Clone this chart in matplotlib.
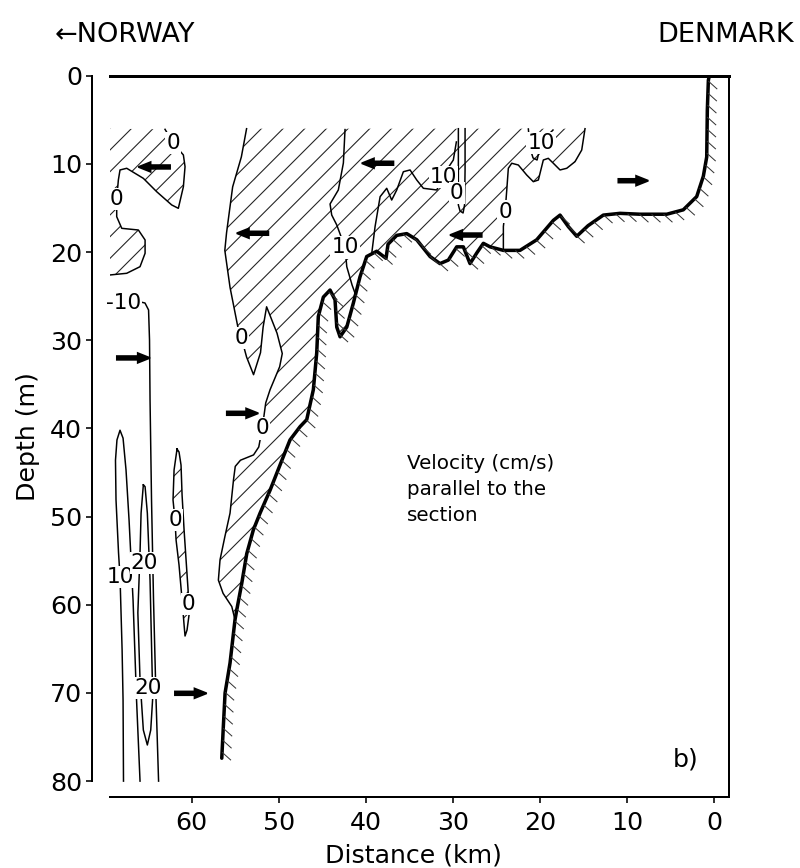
import numpy as np
import matplotlib
matplotlib.use('Agg')
import matplotlib.pyplot as plt
from matplotlib import font_manager
from matplotlib.collections import LineCollection

DPI = 130
PX = 72 / DPI  # one pixel in points

# seabed, deep end (Norwegian trench) to the Danish coast: distance (km), depth (m)
bed_km = [56.55, 56.37, 56.17, 55.60, 55.03, 54.83, 54.26, 53.68, 52.92, 52.15, 51.0, 49.48,
          48.71, 47.56, 46.79, 46.03, 45.64, 45.46, 44.88, 44.11, 43.54, 43.34, 42.96, 42.19,
          41.44, 40.67, 39.90, 38.75, 37.68, 37.45, 36.45, 35.30, 34.15, 32.62, 31.48, 30.52,
          29.56, 28.80, 28.03, 27.26, 26.50, 25.73, 24.20, 22.29, 20.37, 18.46, 17.69, 16.74,
          15.77, 14.47, 12.72, 10.80, 8.50, 5.43, 3.53, 1.99, 1.23, 0.84, 0.77, 0.65, 0.54]
bed_depth = [77.4, 73.8, 70.0, 66.6, 61.7, 60.6, 57.6, 54.2, 51.5, 49.6, 47.0, 43.2,
             41.3, 39.8, 39.0, 35.6, 31.4, 27.3, 25.1, 24.3, 25.4, 28.5, 29.6, 28.5,
             25.8, 22.8, 20.5, 19.9, 20.7, 19.1, 18.1, 17.9, 18.6, 20.5, 21.3, 20.9,
             19.4, 19.4, 21.3, 20.1, 19.0, 19.4, 19.8, 19.8, 18.6, 16.4, 15.8, 17.1,
             18.2, 17.0, 15.8, 15.6, 15.7, 15.7, 15.2, 13.7, 11.4, 9.2, 3.9, 0.5, 0.0]

# 0 contour, west side of the main outflow (top to seabed)
west0_km = [53.7, 54.3, 55.3, 56.0, 56.2, 55.6, 54.7, 54.3, 53.7, 52.9, 52.1, 51.8, 51.4,
            50.2, 49.6, 49.9, 51.0, 51.5, 51.9, 52.3, 52.9, 54.4, 55.0, 55.2, 55.6, 56.2,
            56.75, 56.94, 56.4, 55.4, 55.03]
west0_depth = [6.0, 9.2, 12.6, 17.8, 19.8, 24.0, 28.5, 29.7, 31.9, 33.9, 31.4, 28.5, 26.2,
               29.2, 31.5, 33.0, 35.6, 37.1, 40.0, 42.1, 43.0, 43.6, 44.3, 45.8, 49.6, 52.3,
               54.9, 57.2, 58.7, 60.2, 61.7]

# 0 contour, east side of the main outflow (top to seabed)
east0_km = [14.82, 15.20, 15.97, 16.92, 17.69, 18.46, 19.04, 19.61, 20.18, 20.76, 21.52,
            22.48, 23.24, 23.63, 23.81, 24.0, 24.20, 24.20]
east0_depth = [6.0, 8.42, 9.74, 10.49, 10.68, 9.92, 9.36, 9.55, 11.82, 12.01, 11.25,
               10.12, 9.92, 10.49, 12.95, 15.4, 17.1, 19.8]

# 0 contour, outflow patch at the Norwegian side
nw0_km = [63.07, 62.11, 60.96, 60.77, 60.96, 61.54, 62.30, 64.02, 65.56, 67.47, 68.24,
          68.43, 68.62, 68.62, 68.04, 66.13, 65.36, 65.36, 65.94, 67.47, 69.39]
nw0_depth = [6.07, 7.66, 8.98, 10.31, 12.58, 15.03, 14.65, 13.15, 11.63, 10.49, 10.68,
             11.82, 13.97, 15.98, 17.30, 17.49, 18.62, 20.13, 21.65, 22.40, 22.59]

# thin 0 sliver at 61 km
sliver_km = [61.69, 62.03, 62.15, 61.92, 61.80, 61.46, 61.11, 60.88, 60.77, 60.54, 60.31,
             60.42, 60.65, 60.88, 61.11, 61.23, 61.46, 61.69]
sliver_depth = [42.33, 44.71, 48.11, 50.38, 52.65, 55.49, 59.45, 62.29, 63.54, 62.86, 61.15,
                58.32, 54.92, 51.51, 47.55, 44.15, 42.67, 42.33]

# narrow 0 loop at 29 km
loop0_km = [29.37, 29.37, 29.37, 29.18, 28.83, 28.66, 28.60, 28.60]
loop0_depth = [6.0, 11.93, 14.65, 15.33, 15.56, 14.65, 10.68, 6.0]

# 10 contours inside the outflow
c10a_km = [42.39, 42.58, 43.16, 44.11, 43.92, 43.34, 42.39, 42.19, 41.58, 41.13]
c10a_depth = [6.1, 9.89, 12.95, 14.54, 15.79, 16.92, 19.47, 21.65, 23.73, 24.97]
c10b_km = [39.32, 38.94, 38.36, 37.60, 37.03, 36.45, 35.69, 34.92, 34.15, 33.39, 31.85,
           31.10, 30.71, 29.95, 29.6]
c10b_depth = [20.13, 17.11, 13.71, 12.76, 14.09, 12.95, 10.88, 10.68, 11.82, 12.76, 12.95,
              11.44, 10.68, 9.55, 7.5]
c10c_km = [21.33, 21.14, 20.79, 20.33, 19.87, 19.18, 18.5]
c10c_depth = [6.03, 8.19, 9.32, 9.55, 7.62, 6.83, 6.15]

# deep inflow contours at the Norwegian side
m10_km = [66.4, 65.37, 64.96, 64.85, 64.79, 64.62, 64.39, 64.10, 63.81]
m10_depth = [25.54, 25.77, 26.56, 29.97, 36.77, 48.11, 59.45, 70.79, 80.0]
p10_km = [67.84, 67.89, 68.0, 68.24, 68.41, 68.70, 68.76, 68.59, 68.24, 67.89, 67.55,
          67.20, 66.74, 66.34, 65.94]
p10_depth = [80.0, 70.8, 65.1, 56.8, 54.1, 48.1, 43.6, 41.3, 40.2, 41.1, 44.7,
             50.4, 59.5, 70.8, 80.0]
p20_km = [65.56, 65.82, 65.94, 66.19, 65.94, 65.56, 65.10, 64.71, 64.48, 64.79, 65.10,
          65.36, 65.56]
p20_depth = [46.4, 49.6, 54.1, 60.9, 68.5, 74.2, 75.9, 74.2, 70.5, 57.2, 49.6, 46.6, 46.4]

# contour labels: text, km, depth
label_text = ['0', '0', '-10', '10', '20', '20', '0', '0', '0', '0', '10', '10', '0', '0', '10']
label_km = [62.11, 68.62, 67.86, 68.24, 65.45, 65.02, 61.92, 60.37, 54.3, 51.9, 42.39,
            31.10, 29.56, 24.0, 19.87]
label_depth = [7.66, 13.97, 25.8, 56.8, 55.3, 69.4, 50.4, 59.9, 29.7, 40.0, 19.47,
               11.44, 13.3, 15.4, 7.62]

# flow arrows: tail km, head km, depth
arrow_tail = [62.49, 51.2, 36.83, 26.69, 10.99, 55.97, 61.93, 68.6]
arrow_head = [66.13, 54.83, 40.47, 30.33, 7.55, 52.35, 58.28, 64.8]
arrow_depth = [10.34, 17.86, 9.92, 18.06, 11.9, 38.28, 70.04, 32.0]

x_ticks = [60, 50, 40, 30, 20, 10, 0]
y_ticks = [0, 10, 20, 30, 40, 50, 60, 70, 80]


def pick_font(*names):
    have = {f.name for f in font_manager.fontManager.ttflist}
    for n in names:
        if n in have:
            return n
    return 'DejaVu Sans'


narrow = pick_font('Liberation Sans Narrow', 'DejaVu Sans Condensed')
plt.rcParams['font.family'] = 'DejaVu Sans'
plt.rcParams['hatch.linewidth'] = 0.6
plt.rcParams['hatch.color'] = '#222222'

fig = plt.figure(figsize=(800 / DPI, 868 / DPI), dpi=DPI)
ax = fig.add_axes([110 / 800, 1 - 797 / 868, 619 / 800, 721.2 / 868])
ax.set_xlim(69.39, -1.72)
ax.set_ylim(81.8, 0)

# hatched outflow (towards Norway)
i_l = bed_km.index(55.03)
i_r = bed_km.index(24.20)
main_km = east0_km + bed_km[i_l:i_r + 1][::-1] + west0_km[::-1]
main_depth = east0_depth + bed_depth[i_l:i_r + 1][::-1] + west0_depth[::-1]
hatch = '//'
ax.fill(main_km, main_depth, facecolor='none', edgecolor='#222222', linewidth=0, hatch=hatch, zorder=1)
ax.fill(nw0_km + [69.6, 69.6], nw0_depth + [22.59, 6.0], facecolor='none', edgecolor='#222222',
        linewidth=0, hatch=hatch, zorder=1)
ax.fill(sliver_km, sliver_depth, facecolor='none', edgecolor='#222222', linewidth=0, hatch=hatch, zorder=1)

# contours
lw_c = 1.5 * PX
for km, dep in [(west0_km, west0_depth), (east0_km, east0_depth), (nw0_km, nw0_depth),
                (sliver_km, sliver_depth), (loop0_km, loop0_depth), (c10a_km, c10a_depth),
                (c10b_km, c10b_depth), (c10c_km, c10c_depth), (m10_km, m10_depth),
                (p10_km, p10_depth), (p20_km, p20_depth)]:
    ax.plot(km, dep, color='black', lw=lw_c, zorder=2, solid_joinstyle='round')

# seabed line and hatch ticks below it
ax.plot(bed_km, bed_depth, color='black', lw=3.5 * PX, zorder=3, solid_capstyle='round')
pts = ax.transData.transform(np.column_stack([bed_km, bed_depth]))
seg = np.diff(pts, axis=0)
dist = np.concatenate([[0], np.cumsum(np.hypot(seg[:, 0], seg[:, 1]))])
s = np.arange(6, dist[-1] - 4, 12)
xs = np.interp(s, dist, pts[:, 0])
ys = np.interp(s, dist, pts[:, 1])
ang = np.deg2rad(-42)
inv = ax.transData.inverted()
p1 = inv.transform(np.column_stack([xs, ys]))
p2 = inv.transform(np.column_stack([xs + 12 * np.cos(ang), ys + 12 * np.sin(ang)]))
ax.add_collection(LineCollection(np.stack([p1, p2], axis=1), colors='#333333',
                                 linewidths=1.0 * PX, zorder=3))

# contour labels
for t, km, dep in zip(label_text, label_km, label_depth):
    ax.text(km, dep, t, fontsize=12, ha='center', va='center', zorder=4,
            bbox=dict(boxstyle='square,pad=0.05', fc='white', ec='none'))

# flow arrows
for t0, t1, dep in zip(arrow_tail, arrow_head, arrow_depth):
    ax.arrow(t0, dep, t1 - t0, 0, width=0.42, head_width=1.1, head_length=1.4,
             length_includes_head=True, color='black', zorder=5)

ax.text(35.3, 42.9, 'Velocity (cm/s)\nparallel to the\nsection', fontsize=11,
        ha='left', va='top', linespacing=1.45)
ax.text(3.3, 77.5, 'b)', fontsize=14, ha='center', va='center')

# axes frame
for side in ['top', 'right', 'bottom']:
    ax.spines[side].set_linewidth(2 * PX)
ax.spines['top'].set_linewidth(3 * PX)
ax.spines['left'].set_linewidth(2 * PX)
ax.spines['left'].set_position(('outward', 18 * PX))
ax.spines['left'].set_bounds(0, 80)
ax.set_xticks(x_ticks)
ax.set_yticks(y_ticks)
ax.tick_params(axis='x', length=6 * PX, width=1.6 * PX, pad=8 * PX, labelsize=14)
ax.tick_params(axis='y', length=6 * PX, width=1.6 * PX, pad=4 * PX, labelsize=14)
ax.set_xlabel('Distance (km)', fontsize=14)
ax.set_ylabel('Depth (m)', fontsize=14)
ax.xaxis.set_label_coords((413 - 110) / 619, -0.064)
ax.yaxis.set_label_coords((40 - 110) / 619, 0.5)

fig.text(55 / 800, 1 - 35 / 868, '\u2190NORWAY', fontsize=15, family=narrow, ha='left', va='center')
fig.text(794 / 800, 1 - 35 / 868, 'DENMARK', fontsize=15, family=narrow, ha='right', va='center')

fig.savefig('out.png', dpi=DPI)
